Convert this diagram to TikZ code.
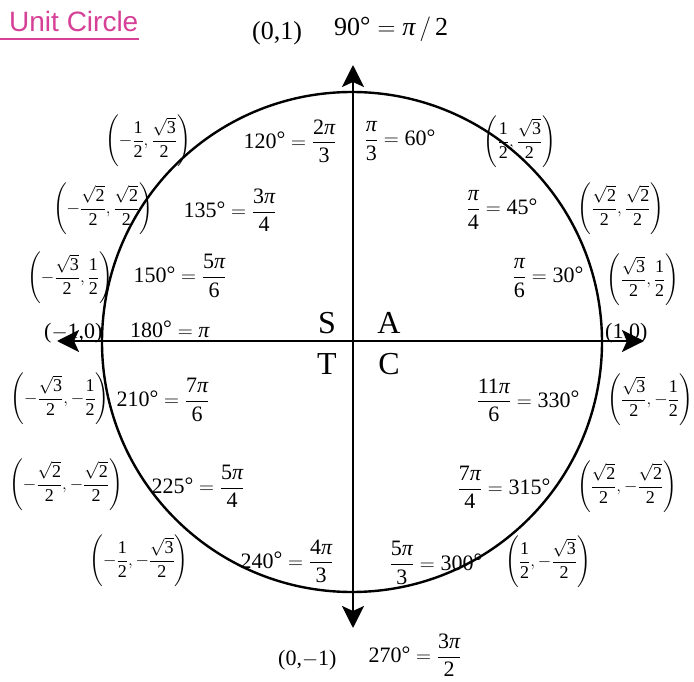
\documentclass[tikz,border=0pt]{standalone}
\usepackage{amsmath}
\usepackage{fontspec}
\setmainfont{Liberation Serif}
\newfontfamily\titlefont{Liberation Sans}
\usetikzlibrary{arrows.meta}
\definecolor{titlepink}{RGB}{214,64,150}
\newcommand\mypi{{\itshape π}}
\newcommand\fr[2]{\dfrac{\mbox{#1}}{\mbox{#2}}}
\newcommand\sq[1]{\sqrt{\mbox{#1}}}
\newcommand\dgr[1]{\mbox{#1\raisebox{0.05em}{°}}}
\tikzset{
  ang/.style={inner sep=0pt, font=\fontsize{22}{26}\selectfont},
  crd/.style={inner sep=0pt, font=\fontsize{18}{22}\selectfont},
  big/.style={inner sep=0pt, font=\fontsize{26}{30}\selectfont},
  quad/.style={inner sep=0pt, font=\fontsize{32}{36}\selectfont},
  axisline/.style={line width=2.6pt, {Stealth[length=22pt,width=22pt,inset=5pt]}-{Stealth[length=22pt,width=22pt,inset=5pt]}},
  circline/.style={line width=2.4pt}
}
\begin{document}
\begin{tikzpicture}[x=1pt,y=-1pt]
\useasboundingbox (0,0) rectangle (694,682);
\fill[white] (0,0) rectangle (694,682);
\begin{scope}
\clip (0,0) rectangle (694,682);
\node[anchor=base west, text=titlepink, font=\titlefont\fontsize{28}{30}\selectfont, inner sep=0pt] (title) at (-47,32) {The Unit Circle};
\draw[titlepink, line width=2.8pt] ([yshift=-7pt]title.base west) -- ([yshift=-7pt]title.base east);
\end{scope}

% circle and axes
\coordinate (O) at (352,342);
\coordinate (N) at (353,65);
\coordinate (Sd) at (353,628);
\coordinate (W) at (57,341);
\coordinate (E) at (644,341);
\draw[circline] (O) circle [radius=250];
\draw[axisline] (Sd) -- (N);
\draw[axisline] (W) -- (E);

% top and bottom
\node[big, anchor=base west] (p01) at (252,40) {(0,1)};
\node[big, anchor=base west] (a90) at (334,36) {$\dgr{90} = \mbox{\mypi}\,/\,\mbox{2}$};
\node[ang, anchor=base west] (p0m1) at (278,665) {(0,$-$1)};
\node[ang] (a270) at (415,655) {$\dgr{270} = \fr{3\mypi}{2}$};

% horizontal axis
\node[ang, anchor=base west] (pm10) at (44,338) {($-$1,0)};
\node[ang, anchor=base west] (a180) at (130,337) {$\dgr{180} = \mbox{\mypi}$};
\node[ang, anchor=base west] (p10) at (605,338) {(1,0)};

% quadrant letters
\node[quad, anchor=base] (qS) at (327,333) {S};
\node[quad, anchor=base] (qA) at (389,333) {A};
\node[quad, anchor=base] (qT) at (327,374) {T};
\node[quad, anchor=base] (qC) at (389,374) {C};

% quadrant II
\node[crd] (c120) at (148,141) {$\left(-\fr{1}{2},\dfrac{\sq{3}}{\mbox{2}}\right)$};
\node[ang] (a120) at (290,141) {$\dgr{120} = \fr{2\mypi}{3}$};
\node[crd] (c135) at (103,209) {$\left(-\dfrac{\sq{2}}{\mbox{2}},\dfrac{\sq{2}}{\mbox{2}}\right)$};
\node[ang] (a135) at (230,210) {$\dgr{135} = \fr{3\mypi}{4}$};
\node[crd] (c150) at (70,278) {$\left(-\dfrac{\sq{3}}{\mbox{2}},\fr{1}{2}\right)$};
\node[ang] (a150) at (180,276) {$\dgr{150} = \fr{5\mypi}{6}$};

% quadrant I
\node[ang] (a60) at (400,141) {$\fr{\mypi}{3} = \dgr{60}$};
\node[crd] (c60) at (520,142) {$\left(\fr{1}{2},\dfrac{\sq{3}}{\mbox{2}}\right)$};
\node[ang] (a45) at (502,210) {$\fr{\mypi}{4} = \dgr{45}$};
\node[crd] (c45) at (621,209) {$\left(\dfrac{\sq{2}}{\mbox{2}},\dfrac{\sq{2}}{\mbox{2}}\right)$};
\node[ang] (a30) at (548,278) {$\fr{\mypi}{6} = \dgr{30}$};
\node[crd] (c30) at (643,280) {$\left(\dfrac{\sq{3}}{\mbox{2}},\fr{1}{2}\right)$};

% quadrant III
\node[crd] (c210) at (60,399) {$\left(-\dfrac{\sq{3}}{\mbox{2}},-\fr{1}{2}\right)$};
\node[ang] (a210) at (163,400) {$\dgr{210} = \fr{7\mypi}{6}$};
\node[crd] (c225) at (66,485) {$\left(-\dfrac{\sq{2}}{\mbox{2}},-\dfrac{\sq{2}}{\mbox{2}}\right)$};
\node[ang] (a225) at (198,486) {$\dgr{225} = \fr{5\mypi}{4}$};
\node[crd] (c240) at (139,561) {$\left(-\fr{1}{2},-\dfrac{\sq{3}}{\mbox{2}}\right)$};
\node[ang] (a240) at (287,561) {$\dgr{240} = \fr{4\mypi}{3}$};

% quadrant IV
\node[ang] (a330) at (528,400) {$\fr{11\mypi}{6} = \dgr{330}$};
\node[crd] (c330) at (650,400) {$\left(\dfrac{\sq{3}}{\mbox{2}},-\fr{1}{2}\right)$};
\node[ang] (a315) at (504,487) {$\fr{7\mypi}{4} = \dgr{315}$};
\node[crd] (c315) at (627,487) {$\left(\dfrac{\sq{2}}{\mbox{2}},-\dfrac{\sq{2}}{\mbox{2}}\right)$};
\node[ang] (a300) at (436,563) {$\fr{5\mypi}{3} = \dgr{300}$};
\node[crd] (c300) at (548,562) {$\left(\fr{1}{2},-\dfrac{\sq{3}}{\mbox{2}}\right)$};
\end{tikzpicture}
\end{document}
